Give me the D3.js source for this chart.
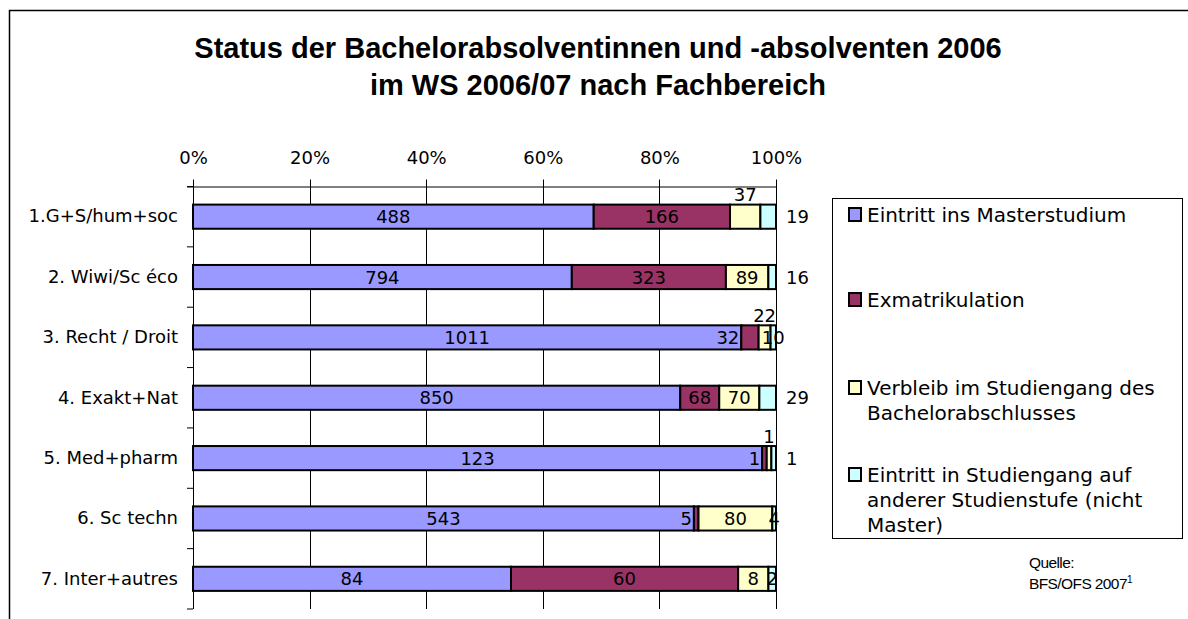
<!DOCTYPE html>
<html><head><meta charset="utf-8">
<script src="https://cdn.jsdelivr.net/npm/d3@7"></script>
<style>body{margin:0;background:#fff}svg{display:block}</style>
</head><body>
<svg id="c" width="1188" height="619"></svg>
<script>
const categories = ["1.G+S/hum+soc","2. Wiwi/Sc éco","3. Recht / Droit","4. Exakt+Nat","5. Med+pharm","6. Sc techn","7. Inter+autres"];
const seriesNames = ["Eintritt ins Masterstudium","Exmatrikulation","Verbleib im Studiengang des Bachelorabschlusses","Eintritt in Studiengang auf anderer Studienstufe (nicht Master)"];
const master   = [488, 794, 1011, 850, 123, 543, 84];
const exmatr   = [166, 323, 32, 68, 1, 5, 60];
const verbleib = [37, 89, 22, 70, 1, 80, 8];
const andere   = [19, 16, 10, 29, 1, 4, 2];
const tickLabels = ["0%","20%","40%","60%","80%","100%"];
// label placement per segment: c=center, a=above, r=right of bar, l=left of segment
const labelPlace = [
  ["c","c","a","r"],
  ["c","c","c","r"],
  ["c","l","a","c"],
  ["c","c","c","r"],
  ["c","l","a","r"],
  ["c","l","c","c"],
  ["c","c","c","c"]
];
const colors = ["#9999FF","#993366","#FFFFCC","#CCFFFF"];
const legendLines = [["Eintritt ins Masterstudium"],["Exmatrikulation"],["Verbleib im Studiengang des","Bachelorabschlusses"],["Eintritt in Studiengang auf","anderer Studienstufe (nicht","Master)"]];

const svg = d3.select("#c");
const font = "'DejaVu Sans', Verdana, sans-serif";
// frame
svg.append("rect").attr("x",9.5).attr("y",10.5).attr("width",1185).attr("height",640)
  .attr("fill","none").attr("stroke","#000").attr("stroke-width",1.5);
// title
const title = svg.append("text").attr("text-anchor","middle").attr("font-family","'Liberation Sans', Arial, sans-serif")
  .attr("font-weight","bold").attr("font-size",29).attr("fill","#000");
title.append("tspan").attr("x",598).attr("y",58).text("Status der Bachelorabsolventinnen und -absolventen 2006");
title.append("tspan").attr("x",598).attr("y",95).text("im WS 2006/07 nach Fachbereich");

const x0 = 193, x1 = 776, yTop = 186.5, yBot = 609;
const x = d3.scaleLinear().domain([0,1]).range([x0,x1]);
const y = d3.scaleBand().domain(categories).range([yTop,yBot]).paddingInner(0.6).paddingOuter(0.3);
const yb = d3.scaleBand().domain(categories).range([yTop,yBot]);

const data = categories.map((c,i)=>{
  const vals=[master[i],exmatr[i],verbleib[i],andere[i]];
  const tot=d3.sum(vals); let acc=0;
  return {cat:c, segs: vals.map((v,j)=>{const s={v, a:acc/tot, b:(acc+v)/tot, j, place:labelPlace[i][j]}; acc+=v; return s;})};
});

// gridlines + top axis
const gridG = svg.append("g");
gridG.selectAll("line").data(d3.range(0,1.0001,0.2)).join("line")
  .attr("x1",d=>Math.round(x(d))+0.5).attr("x2",d=>Math.round(x(d))+0.5)
  .attr("y1",yTop-7).attr("y2",yBot).attr("stroke","#000").attr("stroke-width",1);
const xAxis = d3.axisTop(x).tickValues(d3.range(0,1.0001,0.2)).tickFormat((d,i)=>tickLabels[i]).tickSize(0).tickPadding(23);
const ax = svg.append("g").attr("transform",`translate(0,${yTop})`).call(xAxis);
ax.select(".domain").attr("d",`M${x0-6},0.5H${x1}`).attr("stroke","#000");
ax.selectAll("text").attr("font-family",font).attr("font-size",18).attr("fill","#000");

// left axis
const yAxis = d3.axisLeft(yb).tickSize(0).tickPadding(15);
const ay = svg.append("g").attr("transform",`translate(${x0},0)`).call(yAxis);
ay.select(".domain").attr("d",`M0.5,${yTop}V${yBot}`).attr("stroke","#000");
ay.selectAll("text").attr("font-family",font).attr("font-size",18).attr("fill","#000");
svg.append("g").selectAll("line").data(d3.range(categories.length+1)).join("line")
  .attr("x1",x0-6).attr("x2",x0).attr("y1",i=>yTop+i*yb.step()).attr("y2",i=>yTop+i*yb.step())
  .attr("stroke","#000");

// bars
const rows = svg.append("g").selectAll("g").data(data).join("g").attr("transform",d=>`translate(0,${y(d.cat)})`);
rows.selectAll("rect").data(d=>d.segs).join("rect")
  .attr("x",s=>x(s.a)).attr("width",s=>x(s.b)-x(s.a)).attr("y",0).attr("height",y.bandwidth())
  .attr("fill",s=>colors[s.j]).attr("stroke","#000").attr("stroke-width",2);
rows.selectAll("text").data(d=>d.segs).join("text")
  .attr("font-family",font).attr("font-size",18).attr("fill","#000")
  .attr("x",s=> s.place==="r" ? x1+10 : s.place==="l" ? x(s.a)-2 : (x(s.a)+x(s.b))/2)
  .attr("y",s=> s.place==="a" ? -10 : y.bandwidth()/2)
  .attr("dy","0.36em")
  .attr("text-anchor",s=> s.place==="r" ? "start" : s.place==="l" ? "end" : "middle")
  .text(s=>s.v);

// legend
const lg = svg.append("g");
lg.append("rect").attr("x",832.5).attr("y",198.5).attr("width",350).attr("height",340).attr("fill","#fff").attr("stroke","#000");
const itemY = [215,300,388,475];
legendLines.forEach((lines,i)=>{
  lg.append("rect").attr("x",849).attr("y",itemY[i]-7).attr("width",12).attr("height",13)
    .attr("fill",colors[i]).attr("stroke","#000").attr("stroke-width",2);
  const t = lg.append("text").attr("font-family",font).attr("font-size",20).attr("fill","#000");
  lines.forEach((l,k)=>t.append("tspan").attr("x",867).attr("y",itemY[i]+k*25).attr("dy","0.36em").text(l));
});

// source
const src = svg.append("g").attr("font-family","'Liberation Sans', Arial, sans-serif").attr("font-size",15.5).attr("fill","#000");
src.append("text").attr("x",1029).attr("y",568).attr("letter-spacing",-0.6).text("Quelle:");
const s2 = src.append("text").attr("x",1029).attr("y",589).attr("letter-spacing",-0.6).text("BFS/OFS 2007");
s2.append("tspan").attr("font-size",10).attr("dy",-6).text("1");
</script>
</body></html>
